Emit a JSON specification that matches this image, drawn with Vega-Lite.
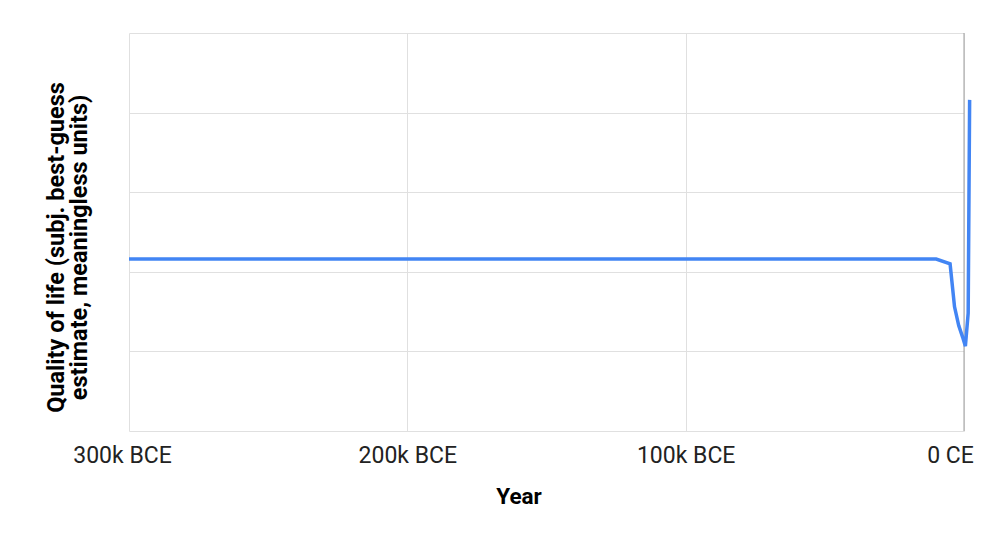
{
  "$schema": "https://vega.github.io/schema/vega-lite/v6.json",
  "autosize": "none",
  "width": 835,
  "height": 398,
  "padding": {"left": 129, "top": 33, "right": 36, "bottom": 118},
  "background": "white",
  "config": {
    "view": {"stroke": null},
    "font": "Roboto",
    "axis": {"gridColor": "#e0e0e0", "gridWidth": 1, "domain": false, "ticks": false}
  },
  "data": {
    "values": [
      {"year": -300000, "quality": 43.2},
      {"year": -10000, "quality": 43.2},
      {"year": -5000, "quality": 42.0},
      {"year": -3400, "quality": 31.2},
      {"year": -1900, "quality": 26.5},
      {"year": -500, "quality": 23.6},
      {"year": 500, "quality": 21.3},
      {"year": 1500, "quality": 29.6},
      {"year": 2020, "quality": 83.2}
    ]
  },
  "layer": [
    {
      "mark": {"type": "rule", "color": "#9e9e9e", "strokeWidth": 1},
      "data": {"values": [{"year": 0}]},
      "encoding": {
        "x": {"field": "year", "type": "quantitative", "scale": {"domain": [-300000, 0]}}
      }
    },
    {
      "mark": {"type": "line", "color": "#4285f4", "strokeWidth": 3.5, "clip": false, "strokeJoin": "miter"},
      "encoding": {
        "x": {
          "field": "year",
          "type": "quantitative",
          "scale": {"domain": [-300000, 0], "nice": false, "zero": false},
          "axis": {
            "values": [-300000, -200000, -100000, 0],
            "labelExpr": "datum.value == 0 ? '0 CE' : (-datum.value/1000) + 'k BCE'",
            "labelFontSize": 23,
            "labelColor": "#222222",
            "labelBaseline": "alphabetic",
            "labelPadding": 31,
            "labelOffset": {"expr": "datum.value == 0 ? -14 : (datum.value == -300000 ? -7 : 0)"},
            "labelFlush": false,
            "labelOverlap": false,
            "title": "Year",
            "titleFontSize": 22.5,
            "titleFontWeight": "bold",
            "titleColor": "#000000",
            "titleBaseline": "alphabetic",
            "titleY": 72,
            "titleX": 389.5
          }
        },
        "y": {
          "field": "quality",
          "type": "quantitative",
          "scale": {"domain": [0, 100], "nice": false},
          "axis": {
            "values": [0, 20, 40, 60, 80, 100],
            "labels": false,
            "title": ["Quality of life (subj. best-guess", "estimate, meaningless units)"],
            "titleFontSize": 23.5,
            "titleLineHeight": 23,
            "titleFontWeight": "bold",
            "titleColor": "#000000",
            "titleAngle": -90,
            "titleAlign": "center",
            "titleBaseline": "alphabetic",
            "titleX": -66,
            "titleY": 214
          }
        }
      }
    }
  ]
}
